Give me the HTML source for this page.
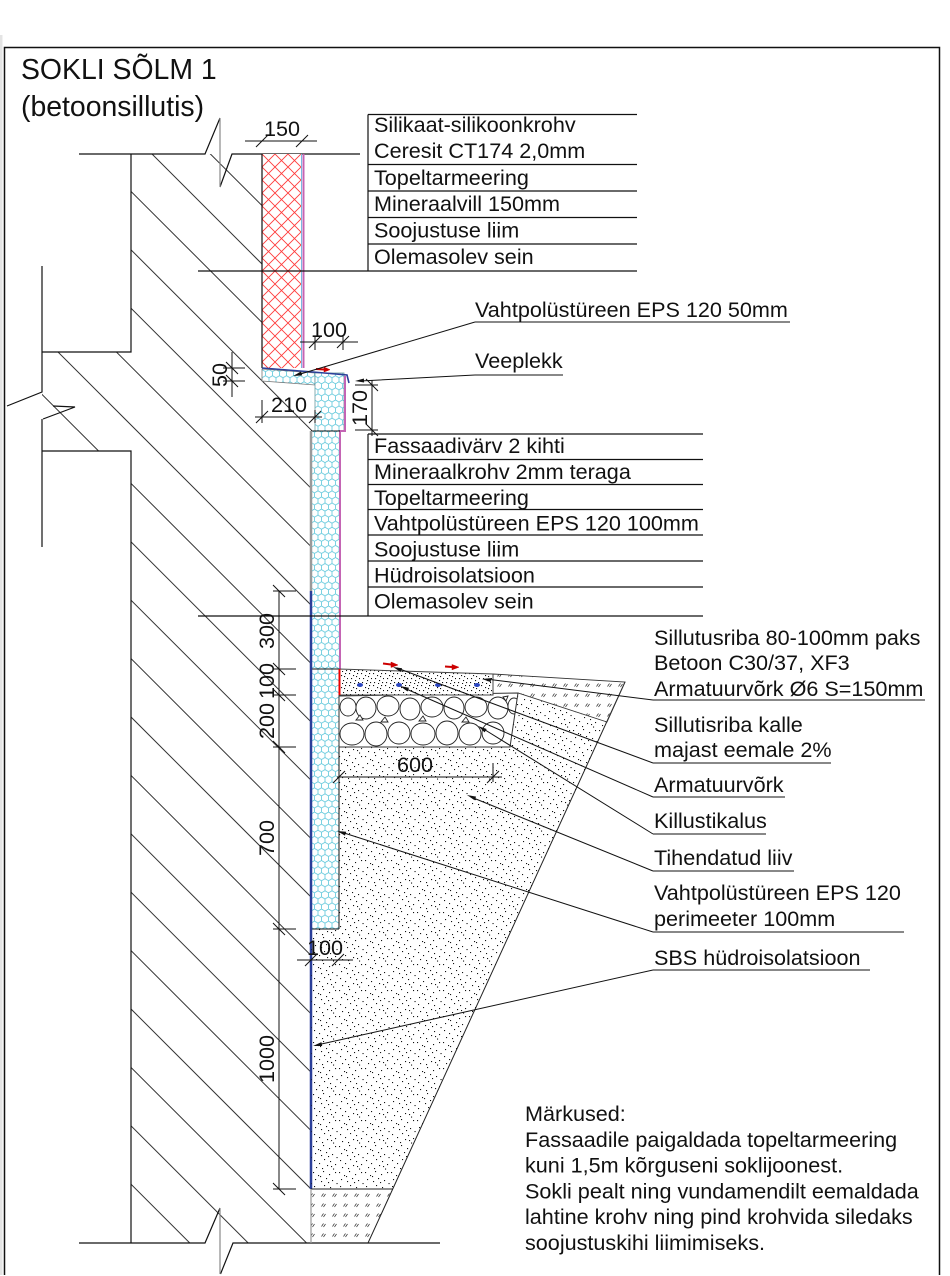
<!DOCTYPE html>
<html><head><meta charset="utf-8"><style>
html,body{margin:0;padding:0;background:#fff;width:950px;height:1276px;overflow:hidden;}
svg{display:block;}
text{font-family:"Liberation Sans",Arial,sans-serif;fill:#111;}
</style></head><body>
<svg width="950" height="1276" viewBox="0 0 950 1276" xmlns="http://www.w3.org/2000/svg">
<defs>
 <pattern id="hex" x="311" y="0" width="7" height="12.12" patternUnits="userSpaceOnUse">
  <path d="M3.5,0 L7,2.02 L7,6.06 L3.5,8.08 L0,6.06 L0,2.02 Z M3.5,8.08 L3.5,12.12" fill="none" stroke="#5cc6da" stroke-width="0.8"/>
 </pattern>
 <pattern id="wool" x="262" y="154" width="13" height="13" patternUnits="userSpaceOnUse">
  <path d="M0,0 L13,13 M13,0 L0,13" stroke="#ff3b3b" stroke-width="0.9" fill="none"/>
 </pattern>
 <pattern id="sand" x="0" y="0" width="26" height="26" patternUnits="userSpaceOnUse">
  <g fill="#111">
   <rect x="1" y="2" width="1.1" height="1.1"/><rect x="6" y="5" width="1.1" height="1.1"/><rect x="11" y="1" width="1.1" height="1.1"/>
   <rect x="17" y="4" width="1.1" height="1.1"/><rect x="23" y="2" width="1.1" height="1.1"/><rect x="3" y="9" width="1.1" height="1.1"/>
   <rect x="9" y="11" width="1.1" height="1.1"/><rect x="14" y="8" width="1.1" height="1.1"/><rect x="20" y="10" width="1.1" height="1.1"/>
   <rect x="24.5" y="13" width="1.1" height="1.1"/><rect x="2" y="16" width="1.1" height="1.1"/><rect x="7" y="19" width="1.1" height="1.1"/>
   <rect x="12" y="15" width="1.1" height="1.1"/><rect x="18" y="17" width="1.1" height="1.1"/><rect x="23" y="20" width="1.1" height="1.1"/>
   <rect x="4" y="23" width="1.1" height="1.1"/><rect x="10" y="24" width="1.1" height="1.1"/><rect x="15" y="21" width="1.1" height="1.1"/>
   <rect x="21" y="24.5" width="1.1" height="1.1"/><rect x="16" y="12" width="1.1" height="1.1"/><rect x="8" y="6" width="1.1" height="1.1"/>
   <rect x="19" y="22" width="1.1" height="1.1"/>
  </g>
 </pattern>
 <pattern id="conc" x="0" y="0" width="12" height="12" patternUnits="userSpaceOnUse">
  <g fill="#111">
   <rect x="1" y="1" width="1.1" height="1.1"/><rect x="5" y="3" width="1.1" height="1.1"/><rect x="9" y="1" width="1.1" height="1.1"/>
   <rect x="3" y="6" width="1.1" height="1.1"/><rect x="7" y="8" width="1.1" height="1.1"/><rect x="11" y="6" width="1" height="1.1"/>
   <rect x="2" y="10" width="1.1" height="1.1"/><rect x="6" y="11" width="1.1" height="1"/><rect x="10" y="10" width="1.1" height="1.1"/>
   <rect x="8" y="4" width="1.1" height="1.1"/>
  </g>
 </pattern>
 <pattern id="soil" x="0" y="0" width="11" height="10" patternUnits="userSpaceOnUse">
  <path d="M2.5,6.5 L4.5,3.5 M4.5,7 L6.5,4" stroke="#333" stroke-width="0.7" fill="none"/>
 </pattern>
 <clipPath id="wallclip"><polygon points="131,154 262,154 262,381 312,386 311,1243 131,1243 131,451 42,451 42,352 131,352"/></clipPath>
 <clipPath id="gravclip"><polygon points="339,696 518,693 510,747 339,747"/></clipPath>
</defs>

<!-- page edge strip and border -->
<rect x="0" y="35" width="2.5" height="1240" fill="#e4e4e4"/>
<path d="M4.5,1275 V47.5 H939.5 V1275" fill="none" stroke="#111" stroke-width="1.5"/>

<!-- title -->
<text x="21" y="79" font-size="28.4">SOKLI SÕLM 1</text>
<text x="21" y="116" font-size="28.4">(betoonsillutis)</text>

<!-- wall hatch -->
<g clip-path="url(#wallclip)" stroke="#333" stroke-width="1" fill="none">
 <path d="M0,-56.4 L700,643.6 M0,2 L700,702 M0,60.4 L700,760.4 M0,118.8 L700,818.8 M0,177.2 L700,877.2 M0,235.6 L700,935.6 M0,294 L700,994 M0,352.4 L700,1052.4 M0,410.8 L700,1110.8 M0,469.2 L700,1169.2 M0,527.6 L700,1227.6 M0,586 L664,1250 M0,644.4 L605.6,1250 M0,702.8 L547.2,1250 M0,761.2 L488.8,1250 M0,819.6 L430.4,1250 M0,878 L372,1250 M0,936.4 L313.6,1250 M0,994.8 L255.2,1250 M0,1053.2 L196.8,1250"/>
</g>

<!-- wall outlines -->
<g stroke="#111" stroke-width="1.2" fill="none">
 <path d="M79,154 H205 L220,118 M220,187 L232,154 H360"/>
 <path d="M131,154 V352 H42 M42,266 V392 L7,406 M53,406 L75,407 L43,419 M42,419 V547 M42,451 H131 V1243"/>
 <path d="M79,1243 H205 L220,1208 M220.5,1274 L233,1243 H440"/>
</g>
<path d="M220,118 V187 M220,1208 V1274" stroke="#888" stroke-width="1.2"/>

<!-- mineral wool -->
<rect x="262" y="154" width="40" height="214" fill="#fff"/>
<rect x="262" y="154" width="40" height="214" fill="url(#wool)"/>
<path d="M262,154 V368" stroke="#111" stroke-width="1.2"/>
<path d="M301.5,154 V368" stroke="#7ab8e0" stroke-width="1"/>
<path d="M303.5,154 V368" stroke="#c464b4" stroke-width="2"/>

<!-- EPS upper parts -->
<polygon points="262,369 315,373 315,385 262,381" fill="#fff"/>
<polygon points="262,369 315,373 315,385 262,381" fill="url(#hex)" stroke="#777" stroke-width="0.8"/>
<rect x="315" y="373" width="29" height="58" fill="#fff"/>
<rect x="315" y="373" width="29" height="58" fill="url(#hex)" stroke="#6a9aa0" stroke-width="0.8"/>

<!-- lower EPS -->
<rect x="311" y="431" width="28" height="498" fill="#fff"/>
<rect x="311" y="431" width="28" height="498" fill="url(#hex)"/>
<path d="M345,376 V431 H340 V669" stroke="#c464b4" stroke-width="2" fill="none"/>
<path d="M311,431 H340 M311,929 H339 M339,669 V929 M311,669 H339" stroke="#111" stroke-width="1" fill="none"/>
<path d="M311,431 V591" stroke="#9a9a9a" stroke-width="2.5"/>
<path d="M311,591 V1189" stroke="#2b3f99" stroke-width="2.5"/>

<!-- flashing -->
<polyline points="262,368 313,372 347,375 349,383" fill="none" stroke="#2b3f99" stroke-width="1.6"/>

<!-- sand -->
<polygon points="339,747 510,747 518,693 607,722 393,1189 311,1189 311,929 339,929" fill="url(#sand)"/>
<polygon points="311,1189 393,1189 368,1243 311,1243" fill="url(#soil)"/>
<path d="M625,682 L368,1243 M311,1189 H393" stroke="#222" stroke-width="1" fill="none"/>
<path d="M311,1189 V1243" stroke="#999" stroke-width="1.2"/>

<!-- topsoil -->
<polygon points="493,674 625,682 607,722 518,693 493,695" fill="url(#soil)" stroke="#333" stroke-width="0.9"/>

<!-- gravel -->
<polygon points="339,696 518,693 510,747 339,747" fill="#fff"/>
<g clip-path="url(#gravclip)" fill="#fff" stroke="#222" stroke-width="0.9">
 <ellipse cx="348" cy="707" rx="8" ry="9"/><ellipse cx="366" cy="708" rx="10" ry="11"/><ellipse cx="388" cy="706" rx="11" ry="10"/>
 <ellipse cx="410" cy="709" rx="10" ry="11"/><ellipse cx="432" cy="707" rx="11" ry="10"/><ellipse cx="454" cy="708" rx="10" ry="11"/>
 <ellipse cx="476" cy="707" rx="11" ry="10"/><ellipse cx="498" cy="708" rx="10" ry="11"/><ellipse cx="514" cy="706" rx="6" ry="8"/>
 <ellipse cx="352" cy="734" rx="12" ry="11"/><ellipse cx="376" cy="734" rx="11" ry="12"/><ellipse cx="399" cy="733" rx="11" ry="11"/>
 <ellipse cx="423" cy="734" rx="12" ry="11"/><ellipse cx="447" cy="733" rx="11" ry="12"/><ellipse cx="470" cy="734" rx="11" ry="11"/>
 <ellipse cx="493" cy="733" rx="11" ry="11"/>
 <path d="M356,720 l4,-5 l3,5 z M381,722 l4,-5 l3,5 z M419,721 l4,-5 l3,5 z M462,722 l4,-5 l3,5 z M503,697 l5,-1 l-2,5 z"/>
</g>
<polygon points="339,696 518,693 510,747 339,747" fill="none" stroke="#333" stroke-width="1"/>

<!-- slab -->
<polygon points="339,669 493,674 493,695 339,695" fill="#fff"/>
<polygon points="339,669 493,674 493,695 339,695" fill="url(#conc)" stroke="#444" stroke-width="1"/>
<path d="M339.5,669 V695" stroke="#e00" stroke-width="2"/>
<g fill="#2a45c0"><ellipse cx="360" cy="685" rx="3" ry="2"/><ellipse cx="399" cy="685" rx="3" ry="2"/><ellipse cx="438" cy="685" rx="3" ry="2"/><ellipse cx="477" cy="685" rx="3" ry="2"/></g>

<!-- red arrows -->
<g stroke="#c00" stroke-width="2" fill="#c00">
 <path d="M316,369 L324,369.5"/><polygon points="324,367 330,369.7 324,372" stroke-width="0.5"/>
 <path d="M383,663.5 L391,664.5"/><polygon points="391,662 398,665 391,667.5" stroke-width="0.5"/>
 <path d="M445,666.5 L452,667"/><polygon points="452,664.5 459,667.2 452,669.8" stroke-width="0.5"/>
</g>

<!-- dimensions -->
<g stroke="#111" stroke-width="1" fill="none">
 <path d="M245,141 H317 M256,147 L268,135 M296,147 L308,135"/>
 <path d="M300,342 H358 M315,336 V350 M343,336 V350 M309,348 L321,336 M337,348 L349,336"/>
 <path d="M232,352 V397 M223,368 H245 M223,381 H245 M226,362 L238,374 M226,375 L238,387"/>
 <path d="M255,417 H322 M262,400 V423 M315,410 V423 M256,423 L268,411 M309,423 L321,411"/>
 <path d="M372,380 V436 M355,385 H378 M355,430 H378 M366,379 L378,391 M366,424 L378,436"/>
 <path d="M279,591 V1189 M273,591 H296 M273,585 L285,597 M273,669 H296 M273,663 L285,675 M273,695 H296 M273,689 L285,701 M273,747 H296 M273,741 L285,753 M273,929 H296 M273,923 L285,935 M273,1189 H296 M273,1183 L285,1195"/>
 <path d="M337,777 H502 M493,763 V782 M333,783 L345,771 M487,783 L499,771"/>
 <path d="M297,960 H353 M305,966 L317,954 M332,966 L344,954"/>
</g>
<g font-size="21.6">
 <text x="282" y="136" text-anchor="middle">150</text>
 <text x="329" y="337" text-anchor="middle">100</text>
 <text transform="translate(227,375) rotate(-90)" text-anchor="middle">50</text>
 <text x="289" y="412" text-anchor="middle">210</text>
 <text transform="translate(367,408) rotate(-90)" text-anchor="middle">170</text>
 <text transform="translate(274,631) rotate(-90)" text-anchor="middle">300</text>
 <text transform="translate(274,681) rotate(-90)" text-anchor="middle">100</text>
 <text transform="translate(274,721) rotate(-90)" text-anchor="middle">200</text>
 <text transform="translate(274,838) rotate(-90)" text-anchor="middle">700</text>
 <text transform="translate(274,1059) rotate(-90)" text-anchor="middle">1000</text>
 <text x="415" y="772" text-anchor="middle">600</text>
 <text x="325" y="955" text-anchor="middle">100</text>
</g>

<!-- tables -->
<g stroke="#111" stroke-width="1.2" fill="none">
 <path d="M368,114.5 V271 M368,114.5 H637 M368,164.5 H637 M368,191 H637 M368,217.5 H637 M368,244 H637 M198,271 H637"/>
 <path d="M368,434 V616 M368,434 H703 M368,459.5 H703 M368,484.5 H703 M368,509.5 H703 M368,535 H703 M368,561 H703 M368,587 H703 M198,616 H703"/>
</g>

<!-- leaders -->
<g stroke="#111" stroke-width="1" fill="none">
 <path d="M475,322 H790 M475,322 L297,375"/>
 <path d="M475,375 H563 M475,375 L360,381"/>
 <path d="M653,700 H925 M653,700 L486,679"/>
 <path d="M653,763 H831 M653,763 L397,668"/>
 <path d="M653,797 H785 M653,797 L404,688"/>
 <path d="M653,834 H766 M653,834 L482,728"/>
 <path d="M653,871 H794 M653,871 L471,797"/>
 <path d="M653,932 H904 M653,932 L341,832"/>
 <path d="M653,970 H870 M653,970 L317,1045"/>
</g>
<g fill="#111">
 <polygon points="293,376 302.2,375.4 301,371.5"/>
 <polygon points="355,381 364.1,382.5 363.9,378.5"/>
 <polygon points="482,679 490.7,682.1 491.1,678.1"/>
 <polygon points="393,667 400.7,672 402.1,668.2"/>
 <polygon points="400,686 407.4,691.4 409,687.8"/>
 <polygon points="478,726 484.6,732.4 486.7,729"/>
 <polygon points="467,795 474.6,800.3 476.1,796.6"/>
 <polygon points="337,831 345,835.6 346.2,831.8"/>
 <polygon points="313,1046 322.2,1046 321.4,1042.1"/>
</g>

<!-- labels -->
<g font-size="21.6">
 <text x="374" y="132">Silikaat-silikoonkrohv</text>
 <text x="374" y="158">Ceresit CT174 2,0mm</text>
 <text x="374" y="185">Topeltarmeering</text>
 <text x="374" y="211">Mineraalvill 150mm</text>
 <text x="374" y="237.5">Soojustuse liim</text>
 <text x="374" y="264">Olemasolev sein</text>

 <text x="475" y="317">Vahtpolüstüreen EPS 120 50mm</text>
 <text x="475" y="368">Veeplekk</text>

 <text x="374" y="453">Fassaadivärv 2 kihti</text>
 <text x="374" y="479">Mineraalkrohv 2mm teraga</text>
 <text x="374" y="505">Topeltarmeering</text>
 <text x="374" y="530.5">Vahtpolüstüreen EPS 120 100mm</text>
 <text x="374" y="556.5">Soojustuse liim</text>
 <text x="374" y="582.5">Hüdroisolatsioon</text>
 <text x="374" y="608.5">Olemasolev sein</text>

 <text x="654" y="645">Sillutusriba 80-100mm paks</text>
 <text x="654" y="670">Betoon C30/37, XF3</text>
 <text x="654" y="696">Armatuurvõrk Ø6 S=150mm</text>
 <text x="654" y="732">Sillutisriba kalle</text>
 <text x="654" y="757">majast eemale 2%</text>
 <text x="654" y="792">Armatuurvõrk</text>
 <text x="654" y="828">Killustikalus</text>
 <text x="654" y="865">Tihendatud liiv</text>
 <text x="654" y="900">Vahtpolüstüreen EPS 120</text>
 <text x="654" y="926">perimeeter 100mm</text>
 <text x="654" y="965">SBS hüdroisolatsioon</text>

 <text x="525" y="1121">Märkused:</text>
 <text x="525" y="1147">Fassaadile paigaldada topeltarmeering</text>
 <text x="525" y="1172.5">kuni 1,5m kõrguseni soklijoonest.</text>
 <text x="525" y="1198.5">Sokli pealt ning vundamendilt eemaldada</text>
 <text x="525" y="1224">lahtine krohv ning pind krohvida siledaks</text>
 <text x="525" y="1250">soojustuskihi liimimiseks.</text>
</g>
</svg>
</body></html>
